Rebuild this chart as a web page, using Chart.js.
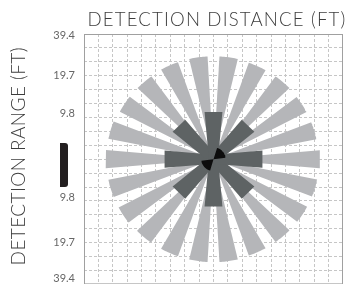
<!DOCTYPE html>
<html><head><meta charset="utf-8">
<style>
html,body{margin:0;padding:0;background:#fff;overflow:hidden;width:348px;height:284px}
#wrap{position:relative;width:348px;height:300px}
</style>
<script src="https://cdn.jsdelivr.net/npm/chart.js@4.4.1/dist/chart.umd.min.js"></script>
</head><body>
<div id="wrap"><canvas id="c" width="348" height="300"></canvas></div>
<script>
// ---- data ----
const outerAngles = [0,16.4,32.7,49.1,65.5,81.8,98.2,114.5,130.9,147.3,163.6,180,196.4,212.7,229.1,245.5,261.8,278.2,294.5,310.9,327.3,343.6];
const outerRanges = [7.4,7.3,7.3,7.35,7.35,7.4,7.4,7.4,7.35,7.35,7.45,7.5,7.45,7.45,7.4,7.4,7.4,7.4,7.35,7.35,7.35,7.35];
const innerAngles = [0,45,90,135,180,225,270,315];
const innerRanges = [3.4,3.4,3.4,3.4,3.4,3.4,3.4,3.4];
const coreAngles = [40,221];
const coreRanges = [0.85,0.85];
const rangeTickValues = [8.86,6.05,3.31,-2.72,-5.96,-8.6];
const rangeTickLabels = ['39.4','19.7','9.8','9.8','19.7','39.4'];
const xTitle = 'DETECTION DISTANCE (FT)';
const yTitle = 'DETECTION RANGE (FT)';

// ---- styles ----
const OUTER_SPAN = 10, CORE_SPAN = 66;
const INNER_W0 = 0.32, INNER_W1 = 0.62;
const C_OUTER = '#b5b6b9', C_INNER = '#5e6364', C_CORE = '#0d0d0d';
const GRID = '#c6c6c6', FRAME = '#a0a0a0';
const FONT = 'Lato, "Open Sans", sans-serif';

const rad = d => d * Math.PI / 180;
function sector(angle, r, span) {
  const pts = [{x:0, y:0}], n = 12;
  for (let i = 0; i <= n; i++) {
    const a = rad(angle - span/2 + span*i/n);
    pts.push({x: r*Math.cos(a), y: r*Math.sin(a)});
  }
  pts.push({x:0, y:0});
  return pts;
}
function bar(angle, r) {
  const a = rad(angle), c = Math.cos(a), s = Math.sin(a), px = -s, py = c;
  return [
    {x: px*INNER_W0, y: py*INNER_W0},
    {x: r*c + px*INNER_W1, y: r*s + py*INNER_W1},
    {x: r*c - px*INNER_W1, y: r*s - py*INNER_W1},
    {x: -px*INNER_W0, y: -py*INNER_W0},
    {x: px*INNER_W0, y: py*INNER_W0}
  ];
}
function ds(data, color, order) {
  return {data, showLine:true, fill:'shape', backgroundColor:color, borderColor:'rgba(0,0,0,0)',
          borderWidth:0, pointRadius:0, pointHoverRadius:0, tension:0, order};
}
const datasets = [];
coreAngles.forEach((a,i) => datasets.push(ds(sector(a, coreRanges[i], CORE_SPAN), C_CORE, 0)));
innerAngles.forEach((a,i) => datasets.push(ds(bar(a, innerRanges[i]), C_INNER, 1)));
outerAngles.forEach((a,i) => datasets.push(ds(sector(a, outerRanges[i], OUTER_SPAN), C_OUTER, 2)));

const decor = {
  id:'decor',
  beforeDraw(chart) {
    [['x', '1.2px', 3.5, 0], ['y', '0.4px', 0, -3]].forEach(([id, ls, dx, dy]) => {
      const s = chart.scales[id];
      if (s._tw) return;
      const orig = s.drawTitle;
      s.drawTitle = function() {
        const c = this.ctx; c.save(); c.letterSpacing = ls; c.translate(dx, dy); orig.call(this); c.restore();
      };
      s._tw = true;
    });
  },
  afterDraw(chart) {
    const {ctx, chartArea:ca} = chart;
    ctx.save();
    ctx.strokeStyle = FRAME; ctx.lineWidth = 1;
    ctx.strokeRect(ca.left + 0.5, ca.top + 0.5, ca.right - ca.left - 1, ca.bottom - ca.top - 1);
    ctx.fillStyle = '#231f20';
    ctx.beginPath();
    ctx.roundRect(ca.left - 24, ca.top + 109, 8, 44, [0,3,3,0]);
    ctx.fill();
    ctx.restore();
  }
};

const gridColor = c => (c.tick && (c.tick.lab !== undefined || Math.abs(c.tick.value) === 9)) ? 'rgba(0,0,0,0)' : GRID;

new Chart(document.getElementById('c'), {
  type: 'scatter',
  data: { datasets },
  plugins: [decor],
  options: {
    responsive:false, animation:false, events:[],
    layout:{padding:{left:0, top:0, right:5, bottom:10}},
    plugins:{legend:{display:false}, tooltip:{enabled:false}, title:{display:false}},
    scales: {
      x: {
        type:'linear', position:'top', min:-9, max:9,
        ticks:{display:false, stepSize:1},
        grid:{color:gridColor, lineWidth:1, drawTicks:false},
        border:{display:false, dash:[3,2]},
        title:{display:true, text:xTitle, color:'#3c3c3c', font:{family:FONT, size:19, weight:'300'}, padding:{top:8, bottom:0}},
        afterFit(s){ s.height = 34; }
      },
      y: {
        type:'linear', position:'left', min:-9, max:9,
        afterBuildTicks(s) {
          const t = [];
          for (let v = -9; v <= 9; v++) t.push({value:v});
          rangeTickValues.forEach((v,i) => t.push({value:v, lab:i}));
          t.sort((a,b) => a.value - b.value);
          s.ticks = t;
        },
        ticks:{autoSkip:false, padding:9, color:'#666', font:{family:FONT, size:11},
          callback:(v,i,ticks) => ticks[i].lab !== undefined ? rangeTickLabels[ticks[i].lab] : ''},
        grid:{color:gridColor, lineWidth:1, drawTicks:false},
        border:{display:false, dash:[3,2]},
        title:{display:true, text:yTitle, color:'#3c3c3c', font:{family:FONT, size:19, weight:'300'}, padding:{top:7, bottom:0}},
        afterFit(s){ s.width = 84; }
      }
    }
  }
});
</script>
</body></html>
